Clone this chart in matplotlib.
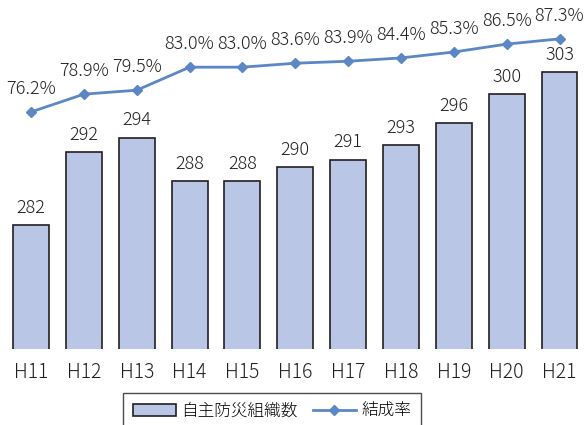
import matplotlib.pyplot as plt

plt.rcParams['font.family'] = ['Noto Sans CJK JP', 'DejaVu Sans']
plt.rcParams['font.weight'] = 'light'

years = ['H11', 'H12', 'H13', 'H14', 'H15', 'H16', 'H17', 'H18', 'H19', 'H20', 'H21']
groups = [282, 292, 294, 288, 288, 290, 291, 293, 296, 300, 303]
rate = [76.2, 78.9, 79.5, 83.0, 83.0, 83.6, 83.9, 84.4, 85.3, 86.5, 87.3]

bar_color = '#bac6e5'
line_color = '#5b87c7'
text_color = '#231f20'

fig = plt.figure(figsize=(5.85, 4.25), dpi=100)
ax = fig.add_axes([0.0079, 0.1788, 0.9937, 0.8212])
x = list(range(len(years)))

bars = ax.bar(x, groups, width=0.68, color=bar_color, edgecolor=text_color,
              linewidth=1.2, label='自主防災組織数')
ax.set_ylim(265, 312.9)
ax.set_xlim(-0.5, 10.5)
for xi, v in zip(x, groups):
    ax.annotate(str(v), (xi, v), xytext=(0, 6), textcoords='offset points',
                ha='center', va='bottom', fontsize=13, color=text_color)

ax2 = ax.twinx()
ln, = ax2.plot(x, rate, color=line_color, linewidth=2.0, marker='D',
               markersize=5, label='結成率')
ax2.set_ylim(40.2, 93.2)
for xi, v in zip(x, rate):
    ax2.annotate(f'{v:.1f}%', (xi, v), xytext=(0, 10), textcoords='offset points',
                 ha='center', va='bottom', fontsize=13, color=text_color)

for a in (ax, ax2):
    for s in a.spines.values():
        s.set_visible(False)
    a.set_yticks([])
ax.set_xticks(x)
ax.set_xticklabels(years, fontsize=14, color=text_color)
ax.tick_params(axis='x', length=0, pad=9)

leg = fig.legend([bars, ln], ['自主防災組織数', '結成率'], loc='upper center',
                 bbox_to_anchor=(272 / 585, 1 - 393 / 425), ncol=2,
                 fontsize=12, frameon=True, fancybox=False, borderpad=0.6,
                 handlelength=2.6, handletextpad=0.3, columnspacing=0.9,
                 borderaxespad=0)
leg.get_frame().set_edgecolor(text_color)
leg.get_frame().set_linewidth(1.0)

fig.savefig('out.png', dpi=100)
